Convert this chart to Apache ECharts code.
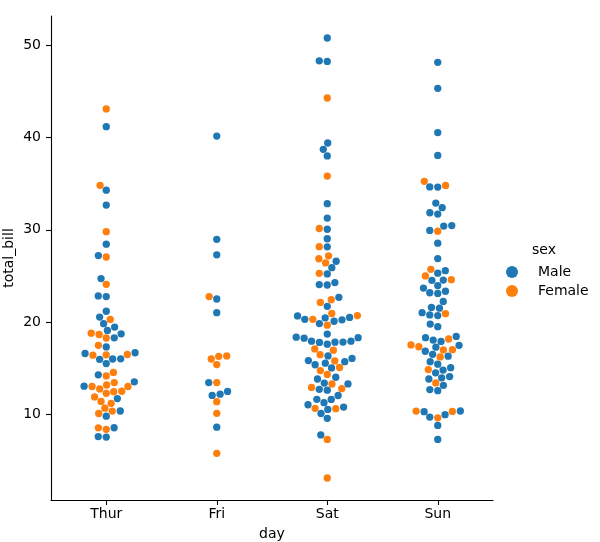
<!DOCTYPE html>
<html><head><meta charset="utf-8">
<script src="https://cdn.jsdelivr.net/npm/echarts@6/dist/echarts.min.js"></script>
<style>html,body{margin:0;padding:0;background:#fff}#c{width:600px;height:542px}</style>
</head><body><div id="c"></div>
<script>
// ---- data (tips dataset: total_bill by day, with sex M/F) ----
const days = ['Thur', 'Fri', 'Sat', 'Sun'];
const yTicks = [10, 20, 30, 40, 50];

const billThur = [27.2,22.76,17.29,19.44,16.66,10.07,32.68,15.98,34.83,13.03,18.28,24.71,21.16,
  10.65,12.43,24.08,11.69,13.42,14.26,15.95,12.48,29.8,8.52,14.52,11.38,22.82,19.08,20.27,11.17,12.26,18.26,8.51,10.33,14.15,16.0,13.16,17.47,34.3,41.19,27.05,16.43,8.35,18.64,11.87,9.78,7.51,
  19.81,28.44,15.48,16.58,7.56,10.34,43.11,13.0,13.51,18.71,12.74,13.0,16.4,20.53,16.47,18.78];
const sexThur = 'MMMMMFMMFMMMM' + 'FFFMFMMFFMFFMMFFFFFFFMFFMMFFFFFMM' + 'MMMMMMFFMMFFFMF' + 'F';

const billFri = [28.97,22.49,5.75,16.32,22.75,40.17,27.28,12.03,21.01,12.46,11.35,15.38,12.16,13.42,8.58,15.98,13.42,16.27,10.09];
const sexFri = 'MMFFFMMMMMFFMFMFMFF';

const billSat = [20.65,17.92,20.29,15.77,39.42,19.82,17.81,13.37,12.69,21.7,19.65,9.55,18.35,15.06,20.69,17.78,24.06,16.31,16.93,18.69,31.27,16.04,
  38.01,26.41,11.24,48.27,20.29,13.81,11.02,18.29,17.59,20.08,16.45,3.07,20.23,15.01,12.02,17.07,26.86,25.28,14.73,10.51,17.92,
  44.3,22.42,20.92,15.36,20.49,25.21,18.24,14.31,14.0,7.25,
  10.59,10.63,50.81,15.81,
  26.59,38.73,24.27,12.76,30.06,25.89,48.33,13.27,28.17,12.9,28.15,11.59,7.74,30.14,
  20.45,13.28,22.12,24.01,15.69,11.61,10.77,15.53,10.07,12.6,32.83,35.83,29.03,27.18,22.67,17.82];
const sexSat = 'MMFFMMMMMMFMMFFMMMFMMM' + 'MFMMMMMMMMFFMMMFFFFMM' + 'FFFMMMMFMF' + 'FFMM' + 'MMMFMMMFFFMMMF' + 'MMFMMMMMMMMFMFMM';

const billSun = [16.99,10.34,21.01,23.68,24.59,25.29,8.77,26.88,15.04,14.78,10.27,35.26,15.42,18.43,14.83,21.58,10.33,16.29,16.97,
  17.46,13.94,9.68,30.4,18.29,22.23,32.4,28.55,18.04,12.54,10.29,34.81,9.94,25.56,19.49,
  38.07,23.95,25.71,17.31,29.93,
  14.07,13.13,17.26,24.55,19.77,29.85,48.17,25.0,13.39,16.49,21.5,12.66,16.21,13.81,17.51,24.52,20.76,31.71,
  7.25,31.85,16.82,32.9,17.89,14.48,9.6,34.63,34.65,23.33,45.35,23.17,40.55,20.69,20.9,30.46,18.15,23.1,15.69];
const sexSun = 'FMMMFMMMMMMFMMFMFMF' + 'MMMMMMMMMMFFMMM' + 'MMFFM' + 'MMMMMFMFFMMMFMFMMM' + 'MMMMMMFMMMMMMMFMFMM';

const billsByDay = [billThur, billFri, billSat, billSun];
const sexByDay = [sexThur, sexFri, sexSat, sexSun];

const COLORS = { Male: '#1f77b4', Female: '#ff7f0e' };
const FONT = 'DejaVu Sans';

const chart = echarts.init(document.getElementById('c'), null, { renderer: 'canvas' });

const baseOption = {
  animation: false,
  backgroundColor: '#fff',
  textStyle: { fontFamily: FONT },
  grid: { left: 51, right: 107, top: 16, bottom: 42, containLabel: false, outerBoundsMode: 'none' },
  xAxis: {
    type: 'value', min: -0.5, max: 3.5,
    name: 'day', nameLocation: 'middle', nameGap: 27, nameMoveOverlap: false,
    nameTextStyle: { fontSize: 14, color: '#000', fontFamily: FONT },
    axisLine: { show: true, onZero: false, lineStyle: { color: '#000', width: 1.1 } },
    axisTick: { show: true, length: 5, customValues: [0, 1, 2, 3], lineStyle: { color: '#000', width: 1.1 } },
    axisLabel: { show: true, customValues: [0, 1, 2, 3], formatter: v => days[Math.round(v)], fontSize: 14, color: '#000', margin: 7, fontFamily: FONT },
    splitLine: { show: false }
  },
  yAxis: {
    type: 'value', min: 0.683, max: 53.197,
    name: 'total_bill', nameLocation: 'middle', nameGap: 35, nameMoveOverlap: false,
    nameTextStyle: { fontSize: 14, color: '#000', fontFamily: FONT },
    axisLine: { show: true, onZero: false, lineStyle: { color: '#000', width: 1.1 } },
    axisTick: { show: true, length: 5, customValues: yTicks, lineStyle: { color: '#000', width: 1.1 } },
    axisLabel: { show: true, customValues: yTicks, fontSize: 14, color: '#000', margin: 10, fontFamily: FONT },
    splitLine: { show: false }
  },
  legend: {
    orient: 'vertical', left: 501, top: 260,
    itemWidth: 12, itemHeight: 12, itemGap: 5, icon: 'circle',
    textStyle: { fontSize: 14, color: '#000', fontFamily: FONT, padding: [0, 0, 0, 15] },
    data: ['Male', 'Female']
  },
  graphic: [{
    type: 'text', left: 532, top: 243,
    style: { text: 'sex', font: '14px "DejaVu Sans"', fill: '#000' }
  }],
  series: [
    { name: 'Male', type: 'scatter', data: [], symbolSize: 7.3, itemStyle: { color: COLORS.Male, opacity: 1 } },
    { name: 'Female', type: 'scatter', data: [], symbolSize: 7.3, itemStyle: { color: COLORS.Female, opacity: 1 } }
  ]
};
chart.setOption(baseOption);

// ---- seaborn-style beeswarm in pixel space ----
const R = (5 + 0.5) / 2 * 100 / 72; // marker radius incl. edge (px)
function beeswarm(pts) {
  const order = pts.map((p, i) => i).sort((a, b) => (pts[b].y - pts[a].y) || (a - b));
  const mid = pts[order[0]].x;
  const placed = [];
  const out = new Array(pts.length);
  for (const k of order) {
    const p = pts[k];
    const yi = p.y;
    const neighbors = [];
    for (let j = placed.length - 1; j >= 0; j--) {
      if (Math.abs(yi - placed[j].y) < 2 * R) neighbors.push(placed[j]); else break;
    }
    const cands = [p.x];
    let leftFirst = true;
    for (const n of neighbors) {
      const dy = yi - n.y;
      const dx = Math.sqrt(Math.max(4 * R * R - dy * dy, 0)) * 1.05;
      const cl = n.x - dx, cr = n.x + dx;
      if (leftFirst) cands.push(cl, cr); else cands.push(cr, cl);
      leftFirst = !leftFirst;
    }
    const sorted = cands.map((x, i) => ({ x, i, o: Math.abs(x - mid) }))
      .sort((a, b) => (a.o - b.o) || (a.i - b.i));
    let chosen = p.x;
    if (neighbors.length) {
      for (const c of sorted) {
        let ok = true;
        for (const n of neighbors) {
          const ddx = n.x - c.x, ddy = n.y - yi;
          if (ddx * ddx + ddy * ddy < 4 * R * R) { ok = false; break; }
        }
        if (ok) { chosen = c.x; break; }
      }
    }
    const q = { x: chosen, y: yi };
    placed.push(q);
    out[k] = q;
  }
  return out;
}

const maleData = [], femaleData = [];
billsByDay.forEach((bills, d) => {
  const pts = bills.map(v => {
    const px = chart.convertToPixel({ xAxisIndex: 0, yAxisIndex: 0 }, [d, v]);
    return { x: px[0], y: px[1] };
  });
  const sw = beeswarm(pts);
  bills.forEach((v, i) => {
    const dv = chart.convertFromPixel({ xAxisIndex: 0, yAxisIndex: 0 }, [sw[i].x, sw[i].y]);
    const item = [dv[0], v];
    if (sexByDay[d][i] === 'M') maleData.push(item); else femaleData.push(item);
  });
});

chart.setOption({ series: [{ name: 'Male', data: maleData }, { name: 'Female', data: femaleData }] });
</script>
</body></html>
